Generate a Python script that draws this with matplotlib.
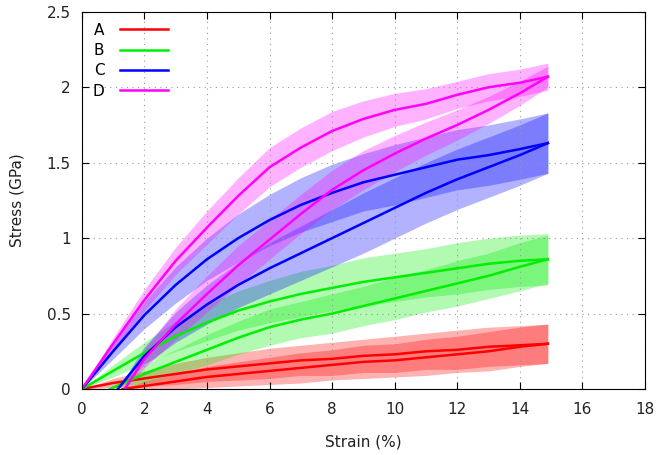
import numpy as np
import matplotlib
matplotlib.use('Agg')
import matplotlib.pyplot as plt

# strain (%) sample points, loading curves start at 0
x_load = [0, 1, 2, 3, 4, 5, 6, 7, 8, 9, 10, 11, 12, 13, 14, 14.9]

labels = ['A', 'B', 'C', 'D']
colors = ['#ff0000', '#00ee00', '#0000ff', '#ff00ff']

# first curve of each sample (from origin)
a_up = [0, 0.04, 0.07, 0.10, 0.13, 0.15, 0.17, 0.19, 0.20, 0.22, 0.23, 0.25, 0.26, 0.28, 0.29, 0.30]
b_up = [0, 0.12, 0.24, 0.35, 0.44, 0.52, 0.58, 0.63, 0.67, 0.71, 0.74, 0.77, 0.80, 0.83, 0.85, 0.86]
c_up = [0, 0.25, 0.49, 0.69, 0.86, 1.00, 1.12, 1.22, 1.30, 1.37, 1.42, 1.47, 1.52, 1.55, 1.59, 1.63]
d_up = [0, 0.30, 0.59, 0.85, 1.07, 1.28, 1.47, 1.60, 1.71, 1.79, 1.85, 1.89, 1.95, 2.00, 2.03, 2.07]

a_up_err = [0, 0.03, 0.05, 0.07, 0.08, 0.09, 0.10, 0.10, 0.11, 0.11, 0.12, 0.12, 0.13, 0.13, 0.13, 0.13]
b_up_err = [0, 0.04, 0.07, 0.10, 0.12, 0.13, 0.14, 0.15, 0.15, 0.16, 0.16, 0.16, 0.17, 0.17, 0.17, 0.17]
c_up_err = [0, 0.05, 0.09, 0.12, 0.14, 0.16, 0.17, 0.18, 0.19, 0.19, 0.20, 0.20, 0.20, 0.20, 0.20, 0.20]
d_up_err = [0, 0.04, 0.07, 0.09, 0.11, 0.12, 0.13, 0.13, 0.13, 0.12, 0.11, 0.10, 0.09, 0.09, 0.09, 0.09]

# second curve of each sample (offset start)
x_off = [1.3, 0.9, 1.15, 1.37]
x_rest = [2, 3, 4, 5, 6, 7, 8, 9, 10, 11, 12, 13, 14, 14.9]
a_lo = [0, 0.02, 0.05, 0.08, 0.10, 0.12, 0.14, 0.16, 0.18, 0.19, 0.21, 0.23, 0.25, 0.28, 0.30]
b_lo = [0, 0.10, 0.18, 0.26, 0.34, 0.41, 0.46, 0.50, 0.55, 0.60, 0.65, 0.70, 0.75, 0.81, 0.86]
c_lo = [0, 0.22, 0.41, 0.56, 0.69, 0.80, 0.90, 1.00, 1.10, 1.20, 1.30, 1.39, 1.47, 1.55, 1.63]
d_lo = [0, 0.20, 0.43, 0.63, 0.82, 0.99, 1.16, 1.32, 1.45, 1.56, 1.66, 1.75, 1.85, 1.96, 2.07]

a_lo_err = [0, 0.03, 0.05, 0.07, 0.08, 0.09, 0.10, 0.10, 0.11, 0.11, 0.12, 0.12, 0.13, 0.13, 0.13]
b_lo_err = [0, 0.06, 0.08, 0.10, 0.11, 0.12, 0.12, 0.13, 0.13, 0.14, 0.14, 0.15, 0.15, 0.16, 0.16]
c_lo_err = [0, 0.06, 0.10, 0.13, 0.15, 0.17, 0.18, 0.19, 0.20, 0.20, 0.20, 0.20, 0.20, 0.20, 0.20]
d_lo_err = [0, 0.06, 0.10, 0.12, 0.13, 0.13, 0.13, 0.13, 0.13, 0.12, 0.11, 0.10, 0.09, 0.08, 0.07]

ups = [a_up, b_up, c_up, d_up]
up_errs = [a_up_err, b_up_err, c_up_err, d_up_err]
los = [a_lo, b_lo, c_lo, d_lo]
lo_errs = [a_lo_err, b_lo_err, c_lo_err, d_lo_err]

plt.rcParams['font.size'] = 11
fig = plt.figure(figsize=(6.6, 4.55), dpi=100)
ax = fig.add_axes([0.124, 0.145, 0.853, 0.829])

xu = np.array(x_load)
for i in range(4):
    xl = np.array([x_off[i]] + x_rest)
    yu, eu = np.array(ups[i]), np.array(up_errs[i])
    yl, el = np.array(los[i]), np.array(lo_errs[i])
    ax.fill_between(xu, yu - eu, yu + eu, color=colors[i], alpha=0.3, lw=0)
    ax.fill_between(xl, yl - el, yl + el, color=colors[i], alpha=0.3, lw=0)

for i in range(4):
    xl = np.array([x_off[i]] + x_rest)
    ax.plot(xu, ups[i], color=colors[i], lw=1.8, label=labels[i])
    ax.plot(xl, los[i], color=colors[i], lw=1.8)

ax.set_xlim(0, 18)
ax.set_ylim(0, 2.5)
ax.set_xticks(range(0, 19, 2))
ax.set_yticks([0, 0.5, 1, 1.5, 2, 2.5])
ax.set_yticklabels(['0', '0.5', '1', '1.5', '2', '2.5'])
ax.tick_params(direction='in', top=True, right=True, length=5, labelcolor='#222222')
ax.tick_params(axis='x', pad=9)
ax.tick_params(axis='y', pad=8)
ax.grid(True, linestyle=(0, (1, 4)), color='#999999', lw=0.8)
ax.set_xlabel('Strain (%)', labelpad=13, color='#222222')
ax.set_ylabel('Stress (GPa)', labelpad=16, color='#222222')

ax.legend(loc='upper left', frameon=False, markerfirst=False, handlelength=3.2,
          labelspacing=0.35, borderaxespad=0.3, handletextpad=1.0)

fig.savefig('out.png', dpi=100)
